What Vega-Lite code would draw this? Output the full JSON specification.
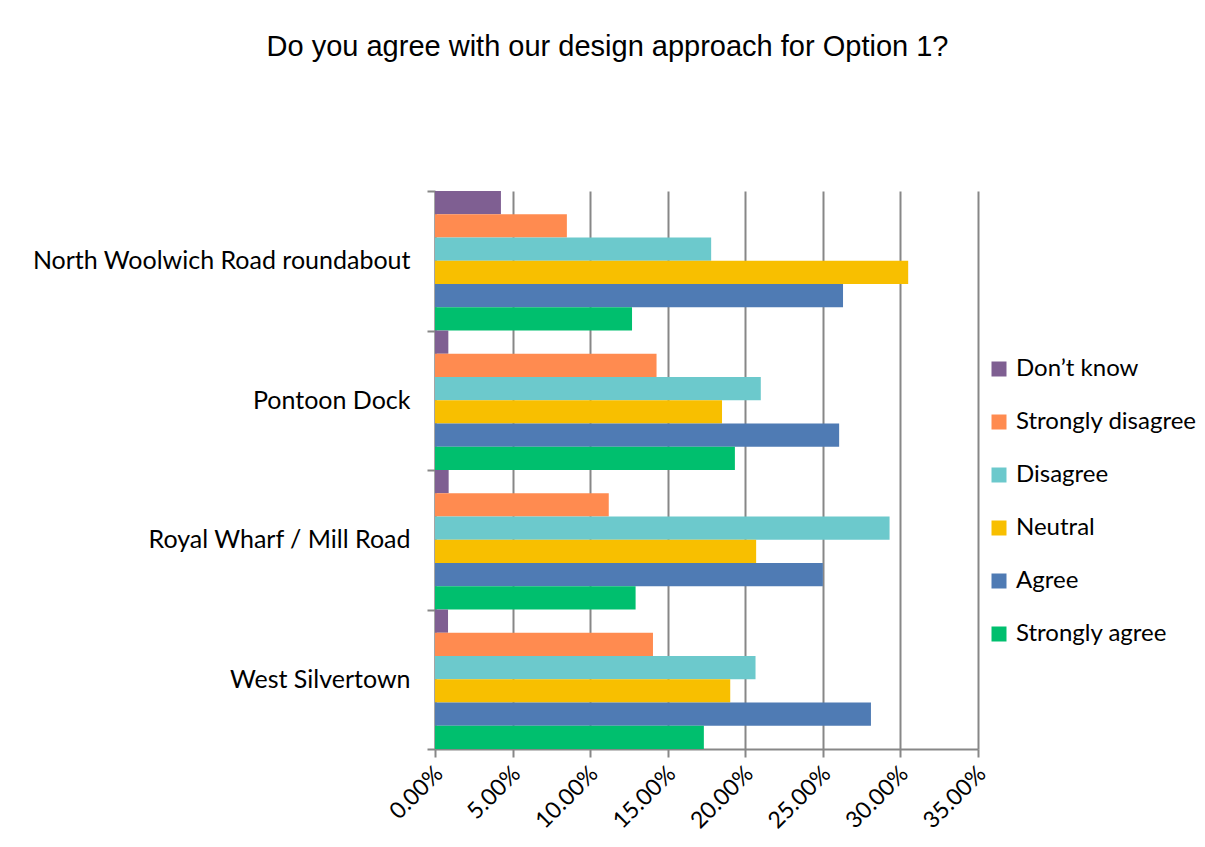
{
  "$schema": "https://vega.github.io/schema/vega-lite/v6.json",
  "width": 543,
  "height": 558,
  "autosize": {"type": "none"},
  "padding": {"left": 435, "top": 191, "right": 227, "bottom": 98},
  "background": "white",
  "title": {
    "text": "Do you agree with our design approach for Option 1?",
    "font": "Liberation Sans",
    "fontSize": 29,
    "fontWeight": "normal",
    "color": "black",
    "anchor": "middle",
    "frame": "group",
    "baseline": "alphabetic",
    "dx": -99,
    "offset": 94
  },
  "data": {
    "values": [
      {"location": "North Woolwich Road roundabout", "response": "Don’t know", "value": 0.0425},
      {"location": "North Woolwich Road roundabout", "response": "Strongly disagree", "value": 0.085},
      {"location": "North Woolwich Road roundabout", "response": "Disagree", "value": 0.178},
      {"location": "North Woolwich Road roundabout", "response": "Neutral", "value": 0.305},
      {"location": "North Woolwich Road roundabout", "response": "Agree", "value": 0.263},
      {"location": "North Woolwich Road roundabout", "response": "Strongly agree", "value": 0.127},
      {"location": "Pontoon Dock", "response": "Don’t know", "value": 0.0086},
      {"location": "Pontoon Dock", "response": "Strongly disagree", "value": 0.1428},
      {"location": "Pontoon Dock", "response": "Disagree", "value": 0.21},
      {"location": "Pontoon Dock", "response": "Neutral", "value": 0.185},
      {"location": "Pontoon Dock", "response": "Agree", "value": 0.2605},
      {"location": "Pontoon Dock", "response": "Strongly agree", "value": 0.1933},
      {"location": "Royal Wharf / Mill Road", "response": "Don’t know", "value": 0.0088},
      {"location": "Royal Wharf / Mill Road", "response": "Strongly disagree", "value": 0.112},
      {"location": "Royal Wharf / Mill Road", "response": "Disagree", "value": 0.293},
      {"location": "Royal Wharf / Mill Road", "response": "Neutral", "value": 0.207},
      {"location": "Royal Wharf / Mill Road", "response": "Agree", "value": 0.25},
      {"location": "Royal Wharf / Mill Road", "response": "Strongly agree", "value": 0.1293},
      {"location": "West Silvertown", "response": "Don’t know", "value": 0.0084},
      {"location": "West Silvertown", "response": "Strongly disagree", "value": 0.1405},
      {"location": "West Silvertown", "response": "Disagree", "value": 0.2066},
      {"location": "West Silvertown", "response": "Neutral", "value": 0.1903},
      {"location": "West Silvertown", "response": "Agree", "value": 0.281},
      {"location": "West Silvertown", "response": "Strongly agree", "value": 0.1733}
    ]
  },
  "mark": {"type": "bar"},
  "encoding": {
    "y": {
      "field": "location",
      "type": "nominal",
      "sort": ["North Woolwich Road roundabout", "Pontoon Dock", "Royal Wharf / Mill Road", "West Silvertown"],
      "scale": {"paddingInner": 0, "paddingOuter": 0},
      "axis": {
        "title": null,
        "labelFont": "Lato",
        "labelFontSize": 25,
        "labelColor": "black",
        "tickBand": "extent",
        "tickSize": 8,
        "tickColor": "#878787",
        "tickWidth": 2,
        "domainColor": "#878787",
        "domainWidth": 2,
        "labelPadding": 17,
        "labelLimit": 500
      }
    },
    "yOffset": {
      "field": "response",
      "type": "nominal",
      "sort": ["Don’t know", "Strongly disagree", "Disagree", "Neutral", "Agree", "Strongly agree"],
      "scale": {"paddingInner": 0, "paddingOuter": 0}
    },
    "x": {
      "field": "value",
      "type": "quantitative",
      "scale": {"domain": [0, 0.35], "nice": false},
      "axis": {
        "title": null,
        "format": ".2%",
        "values": [0, 0.05, 0.1, 0.15, 0.2, 0.25, 0.3, 0.35],
        "labelAngle": -45,
        "labelFont": "Lato",
        "labelFontSize": 23,
        "labelColor": "black",
        "labelPadding": 5,
        "labelOffset": -4,
        "grid": true,
        "gridColor": "#878787",
        "gridWidth": 2,
        "tickSize": 8,
        "tickColor": "#878787",
        "tickWidth": 2,
        "domainColor": "#878787",
        "domainWidth": 2
      }
    },
    "color": {
      "field": "response",
      "type": "nominal",
      "scale": {
        "domain": ["Don’t know", "Strongly disagree", "Disagree", "Neutral", "Agree", "Strongly agree"],
        "range": ["#7f5f92", "#ff8b50", "#6cc9cc", "#f8bf00", "#4f7bb4", "#00bf6e"]
      },
      "legend": {
        "title": null,
        "orient": "none",
        "legendX": 552,
        "legendY": 166,
        "symbolType": "square",
        "symbolSize": 225,
        "symbolStrokeWidth": 0,
        "labelFont": "Lato",
        "labelFontSize": 24,
        "labelColor": "black",
        "labelOffset": 5,
        "rowPadding": 29,
        "labelLimit": 300
      }
    }
  },
  "config": {"view": {"stroke": null}}
}
